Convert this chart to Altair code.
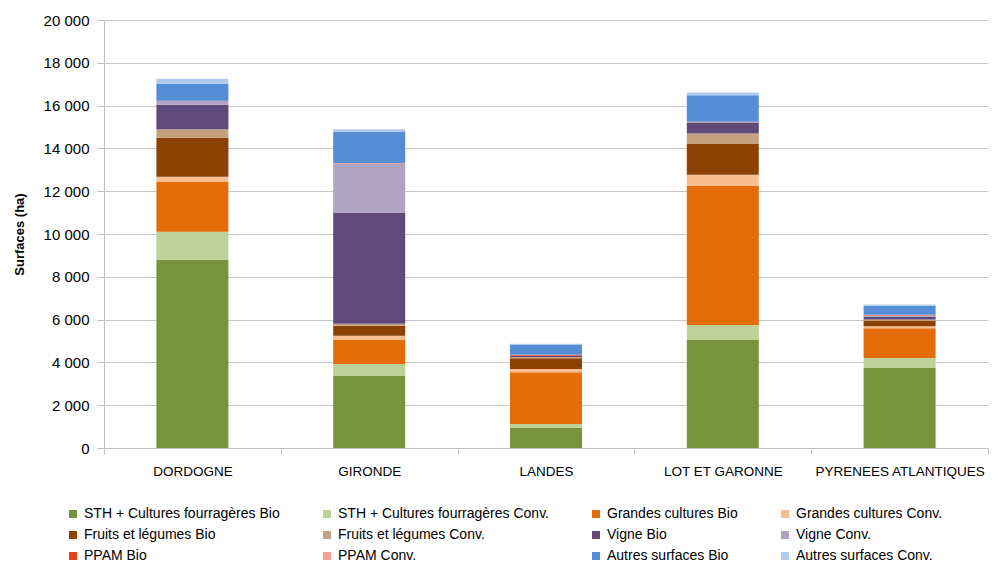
import altair as alt
import pandas as pd

categories = ["DORDOGNE", "GIRONDE", "LANDES", "LOT ET GARONNE", "PYRENEES ATLANTIQUES"]

series_names = [
    "STH + Cultures fourragères Bio",
    "STH + Cultures fourragères Conv.",
    "Grandes cultures Bio",
    "Grandes cultures Conv.",
    "Fruits et légumes Bio",
    "Fruits et légumes Conv.",
    "Vigne Bio",
    "Vigne Conv.",
    "PPAM Bio",
    "PPAM Conv.",
    "Autres surfaces Bio",
    "Autres surfaces Conv.",
]

sth_bio = [8800, 3360, 935, 5050, 3740]
sth_conv = [1300, 565, 185, 700, 460]
gc_bio = [2330, 1125, 2420, 6490, 1390]
gc_conv = [250, 200, 150, 530, 100]
fl_bio = [1820, 465, 500, 1430, 260]
fl_conv = [390, 95, 60, 500, 50]
vigne_bio = [1150, 5170, 50, 490, 140]
vigne_conv = [170, 2320, 10, 30, 40]
ppam_bio = [10, 10, 30, 10, 20]
ppam_conv = [10, 10, 20, 10, 30]
autres_bio = [790, 1450, 450, 1240, 420]
autres_conv = [240, 125, 65, 130, 60]

series_values = [sth_bio, sth_conv, gc_bio, gc_conv, fl_bio, fl_conv,
                 vigne_bio, vigne_conv, ppam_bio, ppam_conv, autres_bio, autres_conv]

colors = ["#77933C", "#BFD19A", "#E46C0A", "#F9BE8F", "#8B4204", "#C4A07F",
          "#604A7B", "#B1A3C4", "#E8401C", "#F2A093", "#558ED5", "#AECBEE"]

rows = []
for i, (name, vals) in enumerate(zip(series_names, series_values)):
    for cat, v in zip(categories, vals):
        rows.append({"dep": cat, "serie": name, "val": v, "ord": i})
df = pd.DataFrame(rows)

FONT = "Liberation Sans"

chart = alt.Chart(df).mark_bar(size=72).encode(
    x=alt.X("dep:N", sort=categories, title=None,
            scale=alt.Scale(paddingInner=0, paddingOuter=0),
            axis=alt.Axis(labelAngle=0, labelFontSize=13.5, labelColor="#000000",
                          labelFont=FONT, labelPadding=10,
                          domainColor="#bfbfbf", tickColor="#bfbfbf",
                          tickBand="extent", tickSize=6)),
    y=alt.Y("val:Q", title="Surfaces (ha)",
            scale=alt.Scale(domain=[0, 20000], nice=False),
            stack="zero",
            axis=alt.Axis(values=list(range(0, 20001, 2000)),
                          labelExpr="replace(format(datum.value, ','), ',', ' ')",
                          labelFontSize=15, labelColor="#000000", labelFont=FONT,
                          titleFontSize=13, titleFont=FONT, titleFontWeight="bold",
                          titleColor="#000000", titlePadding=17,
                          domainColor="#bfbfbf", tickColor="#bfbfbf", tickSize=7,
                          gridColor="#c8c8c8", labelPadding=8)),
    color=alt.Color("serie:N", sort=series_names,
                    scale=alt.Scale(domain=series_names, range=colors),
                    legend=alt.Legend(orient="none", legendX=-38, legendY=487,
                                      direction="horizontal",
                                      columns=4, title=None, padding=0,
                                      symbolType="square", symbolSize=64,
                                      symbolStrokeWidth=0,
                                      labelFontSize=14, labelFont=FONT,
                                      labelColor="#000000", columnPadding=40,
                                      rowPadding=7, labelLimit=300,
                                      gridAlign="each")),
    order=alt.Order("ord:Q", sort="ascending"),
).properties(width=884, height=428, padding={"left": 5, "top": 5, "right": 0, "bottom": 0}
).configure_view(stroke=None)

chart.save("out.html", embed_options={"renderer": "svg", "actions": False})
